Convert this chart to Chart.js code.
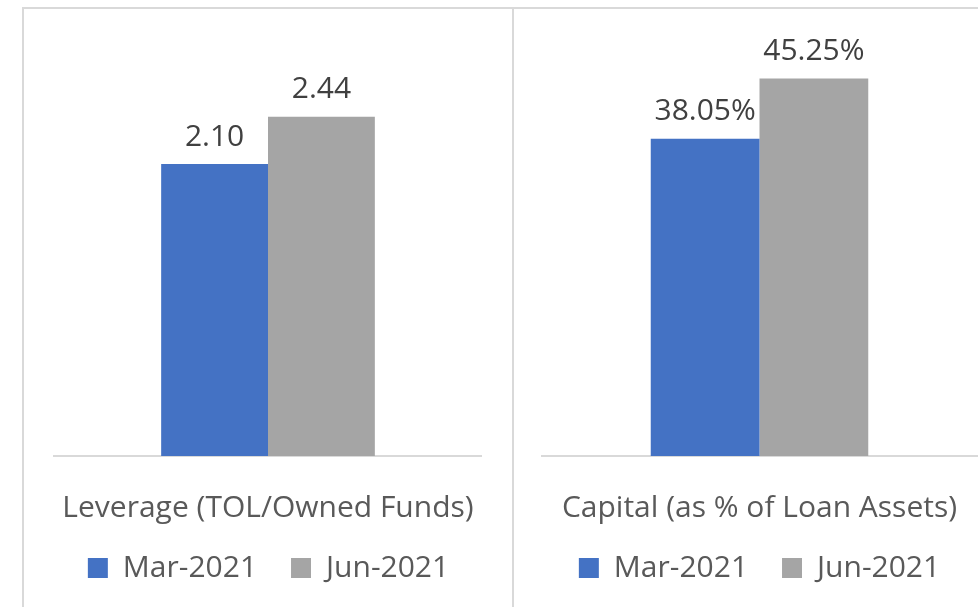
<!DOCTYPE html>
<html>
<head>
<meta charset="utf-8">
<script src="https://cdn.jsdelivr.net/npm/chart.js@4/dist/chart.umd.min.js"></script>
<style>
    html, body { margin: 0; padding: 0; background: #fff; overflow: hidden; }
    body { width: 978px; height: 607px; position: relative; }
    .box { position: absolute; top: 7px; height: 640px; border: 2px solid #d9d9d9; box-sizing: border-box; }
    #boxLeft { left: 22px; width: 492px; }
    #boxRight { left: 512px; width: 500px; }
    canvas { position: absolute; top: 9px; }
    #leverageChart { left: 24px; }
    #capitalChart { left: 514px; }
</style>
</head>
<body>
<div class="box" id="boxLeft"></div>
<div class="box" id="boxRight"></div>
<canvas id="leverageChart" width="488" height="598"></canvas>
<canvas id="capitalChart" width="488" height="598"></canvas>
<script>
/*global Chart, document*/

// Data
var seriesNames = ['Mar-2021', 'Jun-2021'];
var leverageLabels = ['Leverage (TOL/Owned Funds)'];
var leverageMar = [2.10];
var leverageJun = [2.44];
var capitalLabels = ['Capital (as % of Loan Assets)'];
var capitalMar = [38.05];
var capitalJun = [45.25];

(function () {

    'use strict';

    var blue = '#4472C4';
    var grey = '#A5A5A5';
    var fontFamily = '"Open Sans", "Noto Sans", sans-serif';

    // ------------------------------------------------------- //
    // value labels above the bars
    // ------------------------------------------------------ //
    var valueLabels = {
        id: 'valueLabels',
        afterLayout: function (chart) {
            // x axis was squeezed in afterFit, let its label draw past the box
            chart.scales.x.bottom = chart.height;
        },
        afterDatasetsDraw: function (chart, args, opts) {
            var ctx = chart.ctx;
            ctx.save();
            ctx.font = '30px ' + fontFamily;
            ctx.fillStyle = '#404040';
            ctx.textAlign = 'center';
            ctx.textBaseline = 'bottom';
            chart.data.datasets.forEach(function (ds, i) {
                chart.getDatasetMeta(i).data.forEach(function (bar, j) {
                    ctx.fillText(opts.format(ds.data[j]), bar.x, bar.y - 12);
                });
            });
            ctx.restore();
        }
    };

    function makeChart(id, labels, mar, jun, max, format, padRight) {
        return new Chart(document.getElementById(id), {
            type: 'bar',
            data: {
                labels: labels,
                datasets: [
                    { label: seriesNames[0], data: mar, backgroundColor: blue },
                    { label: seriesNames[1], data: jun, backgroundColor: grey }
                ]
            },
            options: {
                responsive: false,
                animation: false,
                categoryPercentage: 0.5,
                barPercentage: 1.0,
                layout: { padding: { top: 30, left: 28, right: padRight, bottom: 14 } },
                scales: {
                    x: {
                        grid: { display: false },
                        border: { display: true, color: '#d9d9d9', width: 2 },
                        ticks: { color: '#595959', font: { family: fontFamily, size: 30 }, padding: 26 },
                        afterFit: function (scale) {
                            scale.height -= 33;
                        }
                    },
                    y: { display: false, min: 0, max: max }
                },
                plugins: {
                    legend: {
                        position: 'bottom',
                        labels: {
                            color: '#595959',
                            font: { family: fontFamily, size: 30 },
                            boxWidth: 20,
                            boxHeight: 20,
                            padding: 34
                        }
                    },
                    tooltip: { enabled: false },
                    valueLabels: { format: format }
                }
            },
            plugins: [valueLabels]
        });
    }

    // ------------------------------------------------------- //
    // Leverage
    // ------------------------------------------------------ //
    makeChart('leverageChart', leverageLabels, leverageMar, leverageJun, 3, function (v) {
        return v.toFixed(2);
    }, 27);

    // ------------------------------------------------------- //
    // Capital
    // ------------------------------------------------------ //
    makeChart('capitalChart', capitalLabels, capitalMar, capitalJun, 50, function (v) {
        return v.toFixed(2) + '%';
    }, 25);

}());
</script>
</body>
</html>
